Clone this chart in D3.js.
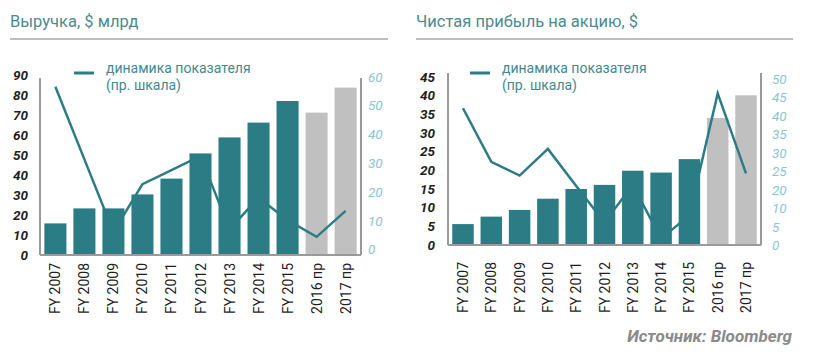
<!DOCTYPE html>
<html>
<head>
<meta charset="utf-8">
<script src="https://cdn.jsdelivr.net/npm/d3@7"></script>
<style>
  html, body { margin: 0; padding: 0; background: #ffffff; }
  svg { display: block; font-family: Roboto, "Noto Sans", Arial, sans-serif; }
</style>
</head>
<body>
<svg id="chart" width="814" height="357"></svg>
<script>
// ---------- data ----------
const categories = ["FY 2007","FY 2008","FY 2009","FY 2010","FY 2011","FY 2012","FY 2013","FY 2014","FY 2015","2016 пр","2017 пр"];
const forecastCategories = ["2016 пр","2017 пр"];

const revenueTitle = "Выручка, $ млрд";
const revenueValues = [15.8, 23.3, 23.3, 30.3, 38.2, 50.8, 58.8, 66.2, 77.0, 71.2, 83.7];
const revenueDynamics = [56.5, 31.3, 6.1, 22.7, 27.6, 32.5, 7.0, 18.0, 10.2, 4.4, 13.4];
const revenueLeftTicks = [0, 10, 20, 30, 40, 50, 60, 70, 80, 90];
const revenueRightTicks = [0, 10, 20, 30, 40, 50, 60];
const revenueRightLabels = ["0", "10", "20", "30", "40", "50", "60"];

const epsTitle = "Чистая прибыль на акцию, $";
const epsValues = [5.6, 7.6, 9.4, 12.4, 15.0, 16.1, 19.9, 19.4, 23.0, 34.0, 40.1];
const epsDynamics = [37.1, 22.6, 18.9, 26.1, 16.1, 6.2, 16.4, 1.8, 8.2, 41.1, 19.5];
const epsLeftTicks = [0, 5, 10, 15, 20, 25, 30, 35, 40, 45];
const epsRightTicks = [0, 5, 10, 15, 20, 25, 30, 35, 40, 45];
const epsRightLabels = ["0", "5", "10", "20", "25", "30", "35", "40", "45", "50"];

const legendLines = ["динамика показателя", "(пр. шкала)"];
const sourceText = "Источник: Bloomberg";

// ---------- style ----------
const TEAL = "#2b7c85";
const GREY_BAR = "#c0c0c0";
const AXIS = "#9a9a9a";
const TITLE_COLOR = "#4b8b91";
const RIGHT_LABEL = "#8cc6d0";

const svg = d3.select("#chart");

function drawPanel(o) {
  const g = svg.append("g");

  // title + rule
  g.append("text").attr("x", o.titleX).attr("y", 27)
    .attr("font-size", 16.5).attr("fill", TITLE_COLOR).text(o.title);
  g.append("line").attr("x1", o.titleX).attr("x2", o.ruleEnd)
    .attr("y1", 39).attr("y2", 39)
    .attr("stroke", "#a8a8a8").attr("stroke-width", 1.5);

  const x = d3.scaleBand().domain(categories)
    .range([o.x0, o.x1]).paddingInner(0.24).paddingOuter(0.15);
  const yL = d3.scaleLinear().domain(o.leftDomain).range(o.leftRange);
  const yR = d3.scaleLinear().domain(o.rightDomain).range(o.rightRange);
  const base = yL(0);

  const rows = categories.map((c, i) => ({ c, v: o.values[i], d: o.dyn[i],
      forecast: forecastCategories.includes(c) }));

  // forecast (grey) bars first
  g.append("g").selectAll("rect").data(rows.filter(r => r.forecast)).join("rect")
    .attr("x", r => x(r.c)).attr("width", x.bandwidth())
    .attr("y", r => yL(r.v)).attr("height", r => base - yL(r.v))
    .attr("fill", GREY_BAR);

  // dynamics line
  const line = d3.line().x(r => x(r.c) + x.bandwidth() / 2).y(r => yR(r.d));
  g.append("path").datum(rows).attr("d", line)
    .attr("fill", "none").attr("stroke", TEAL).attr("stroke-width", 2.5)
    .attr("stroke-linejoin", "miter");

  // actual (teal) bars on top
  g.append("g").selectAll("rect").data(rows.filter(r => !r.forecast)).join("rect")
    .attr("x", r => x(r.c)).attr("width", x.bandwidth())
    .attr("y", r => yL(r.v)).attr("height", r => base - yL(r.v))
    .attr("fill", TEAL);

  // axis frame
  const frame = g.append("g").attr("stroke", AXIS).attr("stroke-width", 2).attr("fill", "none");
  frame.append("line").attr("x1", o.x0).attr("x2", o.x0).attr("y1", o.axisTop).attr("y2", base);
  frame.append("line").attr("x1", o.x1).attr("x2", o.x1).attr("y1", o.axisTop).attr("y2", base);
  frame.append("line").attr("x1", o.x0).attr("x2", o.x1).attr("y1", base).attr("y2", base);

  // left axis
  const la = g.append("g").attr("transform", `translate(${o.x0 - o.leftGap},0)`)
    .call(d3.axisLeft(yL).tickValues(o.leftTicks).tickSize(0).tickPadding(0));
  la.select(".domain").remove();
  la.selectAll("text").attr("font-size", 13.5).attr("font-weight", "bold")
    .attr("font-style", "italic").attr("fill", "#1e1e1e")
    .attr("font-family", "Roboto, sans-serif");

  // right axis
  const ra = g.append("g").attr("transform", `translate(${o.x1 + o.rightGap},0)`)
    .call(d3.axisRight(yR).tickValues(o.rightTicks).tickSize(0).tickPadding(0)
      .tickFormat((d, i) => o.rightLabels[i]));
  ra.select(".domain").remove();
  ra.selectAll("text").attr("font-size", 13.5).attr("font-style", "italic")
    .attr("fill", RIGHT_LABEL).attr("font-family", "Roboto, sans-serif");

  // category labels (rotated)
  g.append("g").selectAll("text").data(categories).join("text")
    .attr("transform", c => `translate(${x(c) + x.bandwidth() / 2 + 5},${o.labelTop}) rotate(-90)`)
    .attr("text-anchor", "end").attr("font-size", 14).attr("fill", "#1e1e1e")
    .text(c => c);

  // legend
  g.append("line").attr("x1", o.legendX).attr("x2", o.legendX + 20)
    .attr("y1", 73).attr("y2", 73).attr("stroke", TEAL).attr("stroke-width", 3);
  g.append("g").selectAll("text").data(legendLines).join("text")
    .attr("x", o.legendX + 32).attr("y", (d, i) => 73 + i * 16.7)
    .attr("font-size", 14).attr("fill", "#3f8a91").text(d => d);
}

drawPanel({
  title: revenueTitle, titleX: 10, ruleEnd: 388,
  x0: 40, x1: 361, axisTop: 78,
  values: revenueValues, dyn: revenueDynamics,
  leftDomain: [0, 90], leftRange: [255, 75],
  rightDomain: [0, 60], rightRange: [249.5, 76.7],
  leftTicks: revenueLeftTicks, rightTicks: revenueRightTicks, rightLabels: revenueRightLabels,
  leftGap: 12, rightGap: 7, labelTop: 263, legendX: 74
});

drawPanel({
  title: epsTitle, titleX: 416, ruleEnd: 793,
  x0: 448, x1: 761, axisTop: 73,
  values: epsValues, dyn: epsDynamics,
  leftDomain: [0, 45], leftRange: [245, 77],
  rightDomain: [0, 45], rightRange: [245.5, 79],
  leftTicks: epsLeftTicks, rightTicks: epsRightTicks, rightLabels: epsRightLabels,
  leftGap: 13, rightGap: 11, labelTop: 262, legendX: 470
});

svg.append("text").attr("x", 792).attr("y", 342).attr("text-anchor", "end")
  .attr("font-size", 17).attr("font-weight", "bold").attr("font-style", "italic")
  .attr("fill", "#8a8a8a").text(sourceText);
</script>
</body>
</html>
